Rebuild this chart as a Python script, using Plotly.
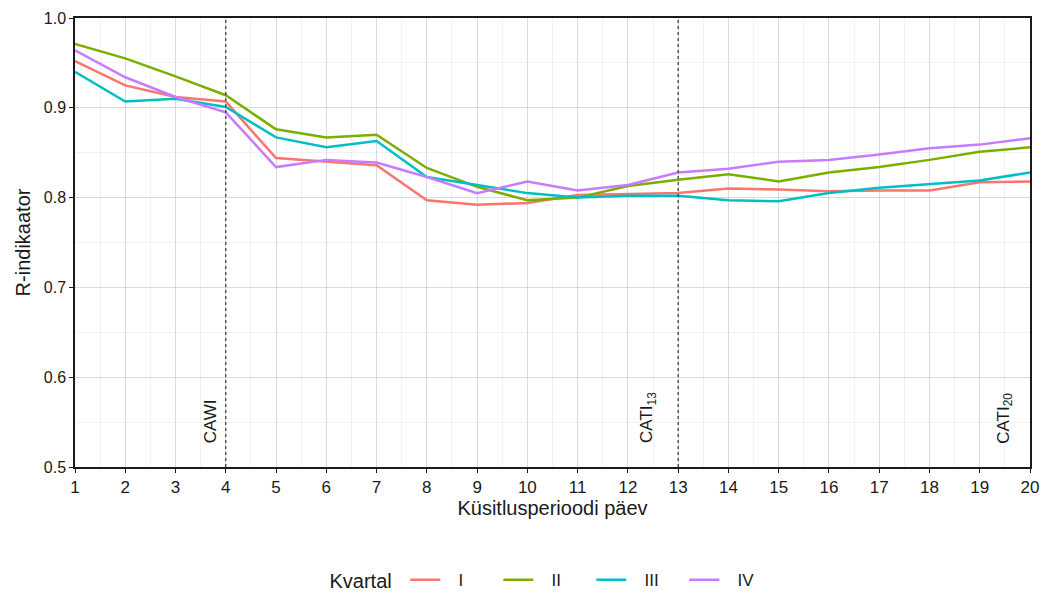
import plotly.graph_objects as go

days = list(range(1, 21))
kvartal_I = [0.952, 0.925, 0.912, 0.907, 0.844, 0.840, 0.836, 0.797, 0.792, 0.794,
             0.803, 0.804, 0.805, 0.810, 0.809, 0.807, 0.808, 0.808, 0.817, 0.818]
kvartal_II = [0.971, 0.955, 0.935, 0.914, 0.876, 0.867, 0.870, 0.833, 0.812, 0.797,
              0.800, 0.813, 0.820, 0.826, 0.818, 0.828, 0.834, 0.842, 0.851, 0.856]
kvartal_III = [0.940, 0.907, 0.910, 0.901, 0.867, 0.856, 0.863, 0.823, 0.814, 0.805,
               0.800, 0.802, 0.802, 0.797, 0.796, 0.805, 0.811, 0.815, 0.819, 0.828]
kvartal_IV = [0.964, 0.934, 0.912, 0.895, 0.834, 0.842, 0.839, 0.823, 0.805, 0.818,
              0.808, 0.814, 0.828, 0.832, 0.840, 0.842, 0.848, 0.855, 0.859, 0.866]

series_names = ["I", "II", "III", "IV"]
series_values = [kvartal_I, kvartal_II, kvartal_III, kvartal_IV]
colors = ["#F8766D", "#7CAE00", "#00BFC4", "#C77CFF"]

mode_lines = [4, 13]
mode_labels = ["CAWI", "CATI<sub>13</sub>", "CATI<sub>20</sub>"]
mode_label_x = [3.7, 12.4, 19.5]

font = "Liberation Sans, Arial, Helvetica, sans-serif"

fig = go.Figure()
for name, vals, col in zip(series_names, series_values, colors):
    fig.add_trace(go.Scatter(x=days, y=vals, mode="lines", name="\u2002\u00a0" + name,
                             line=dict(color=col, width=2.5)))

for xv in mode_lines:
    fig.add_shape(type="line", x0=xv, x1=xv, y0=0, y1=1, xref="x", yref="paper",
                  line=dict(color="#333333", width=1.2, dash="dot"), layer="above")

for lab, xv in zip(mode_labels, mode_label_x):
    fig.add_annotation(x=xv, y=0.524, xref="x", yref="y", text=lab, showarrow=False,
                       textangle=-90, xanchor="center", yanchor="bottom",
                       font=dict(size=17, color="#1a1a1a", family=font))

fig.update_layout(
    width=1041, height=595,
    margin=dict(l=75, r=11, t=18, b=128, autoexpand=False),
    paper_bgcolor="white", plot_bgcolor="white",
    font=dict(family=font, size=16, color="#1a1a1a"),
    showlegend=True,
    legend=dict(orientation="h", x=0.5, xanchor="center",
                yref="container", y=0.025, yanchor="middle",
                title=dict(text="Kvartal ", font=dict(size=20)),
                font=dict(size=17), entrywidth=48, entrywidthmode="pixels"),
    xaxis=dict(range=[1, 20], dtick=1, tick0=1, automargin=False,
               title=dict(text="Küsitlusperioodi päev", font=dict(size=20), standoff=2),
               showline=True, linecolor="#1a1a1a", linewidth=1.5, mirror=True,
               ticks="outside", ticklen=4, tickcolor="#1a1a1a",
               showgrid=True, gridcolor="rgba(0,0,0,0.14)", gridwidth=1,
               minor=dict(dtick=0.5, showgrid=True, gridcolor="rgba(0,0,0,0.05)", gridwidth=1),
               zeroline=False, tickfont=dict(size=17)),
    yaxis=dict(range=[0.5, 1.0], dtick=0.1, tick0=0.5, tickformat=".1f", automargin=False,
               title=dict(text="R-indikaator", font=dict(size=20), standoff=8),
               showline=True, linecolor="#1a1a1a", linewidth=1.5, mirror=True,
               ticks="outside", ticklen=4, tickcolor="#1a1a1a",
               showgrid=True, gridcolor="rgba(0,0,0,0.14)", gridwidth=1,
               minor=dict(dtick=0.05, showgrid=True, gridcolor="rgba(0,0,0,0.05)", gridwidth=1),
               zeroline=False, tickfont=dict(size=16)),
)

fig.write_html("out.html", config={"displayModeBar": False},
               post_script="document.body.style.margin='0';document.body.style.overflow='hidden';")
